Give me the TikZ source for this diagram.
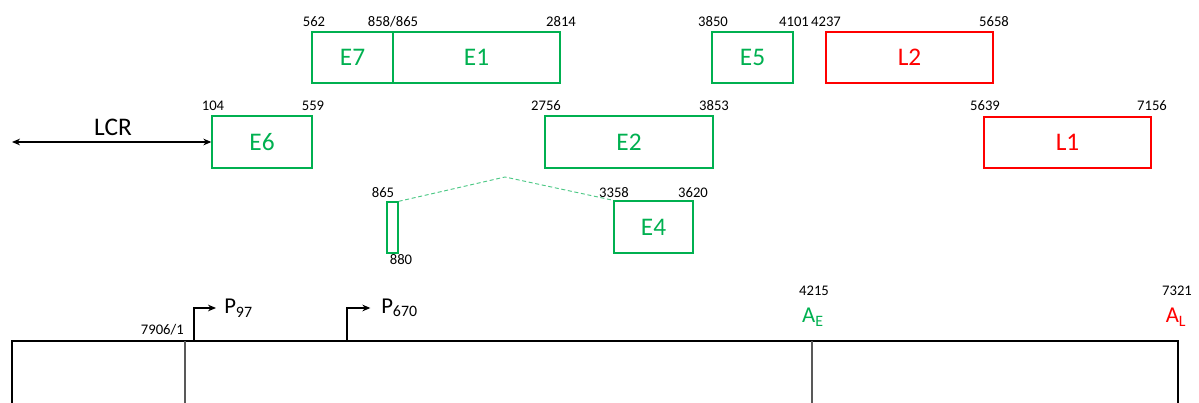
\documentclass[tikz,border=0pt]{standalone}
\usepackage{fontspec}
\setmainfont{Carlito}
\usetikzlibrary{fit,arrows.meta}
\definecolor{eg}{RGB}{0,176,80}
\definecolor{lr}{RGB}{255,0,0}
\begin{document}
\begin{tikzpicture}[x=0.75pt,y=-0.75pt,
  gbox/.style={draw=eg,line width=1pt,inner sep=0pt,rectangle},
  rbox/.style={draw=lr,line width=1pt,inner sep=0pt,rectangle},
  glab/.style={text=eg,font=\fontsize{19}{22}\selectfont},
  rlab/.style={text=lr,font=\fontsize{19}{22}\selectfont},
  num/.style={font=\fontsize{11}{13}\selectfont,inner sep=0pt,anchor=base},
  tip/.style={-{Stealth[length=6pt,width=5pt]}},
  prom/.style={font=\fontsize{17}{20}\selectfont,anchor=west,inner sep=0pt}]
\useasboundingbox (0,0) rectangle (1199,403);
\clip (0,0) rectangle (1199,403);
% exon boxes
\node[gbox,fit={(312,32)(393,83)}] (E7) {};
\node[gbox,fit={(393,32)(560,83)}] (E1) {};
\node[gbox,fit={(712,32)(793,83)}] (E5) {};
\node[rbox,fit={(826,32)(993,83)}] (L2) {};
\node[gbox,fit={(212,116)(312,168)}] (E6) {};
\node[gbox,fit={(545,116)(713,168)}] (E2) {};
\node[rbox,fit={(984,117)(1151,168)}] (L1) {};
\node[gbox,fit={(614,201)(693,253)}] (E4) {};
\node[gbox,fit={(387,202)(398,253)}] (E3) {};
% box labels
\node[glab] (tE7) at (E7.center) {E7};
\node[glab] (tE1) at (E1.center) {E1};
\node[glab] (tE5) at (E5.center) {E5};
\node[rlab] (tL2) at (L2.center) {L2};
\node[glab] (tE6) at (E6.center) {E6};
\node[glab] (tE2) at (E2.center) {E2};
\node[rlab] (tL1) at (L1.center) {L1};
\node[glab] (tE4) at (E4.center) {E4};
% numbers
\node[num] (n562) at (314,27) {562};
\node[num] (n858) at (393,27) {858/865};
\node[num] (n2814) at (561,27) {2814};
\node[num] (n3850) at (713,27) {3850};
\node[num] (n4101) at (794,27) {4101};
\node[num] (n4237) at (826,27) {4237};
\node[num] (n5658) at (994,27) {5658};
\node[num] (n104) at (213,110) {104};
\node[num] (n559) at (313,110) {559};
\node[num] (n2756) at (546,110) {2756};
\node[num] (n3853) at (714,110) {3853};
\node[num] (n5639) at (985,110) {5639};
\node[num] (n7156) at (1152,110) {7156};
\node[num] (n865) at (383,197) {865};
\node[num] (n880) at (401,264) {880};
\node[num] (n3358) at (614,197) {3358};
\node[num] (n3620) at (693,197) {3620};
\node[num,anchor=base east] (n7906) at (184,334) {7906/1};
\node[num] (n4215) at (814,295) {4215};
\node[num] (n7321) at (1177,295) {7321};
% splice dashed line
\coordinate (peak) at (505,177);
\draw[eg!70,dashed,line width=0.7pt,dash pattern=on 3pt off 2pt] (E3.north east) -- (peak) -- (E4.north west);
% LCR
\coordinate (lcrL) at (12,142);
\draw[{Stealth[length=6pt,width=5pt]}-{Stealth[length=6pt,width=5pt]},line width=0.8pt] (lcrL) -- (E6.west);
\node[font=\fontsize{19}{22}\selectfont] (LCR) at (113,127) {LCR};
% genome
\coordinate (gL) at (12,341);
\coordinate (gR) at (1178,341);
\coordinate (gLb) at (12,410);
\coordinate (gRb) at (1178,410);
\draw[line width=1pt] (gLb) -- (gL) -- (gR) -- (gRb);
\coordinate (v1t) at (185,341);
\coordinate (v1b) at (185,410);
\draw[gray!70!black,line width=0.8pt] (v1t) -- (v1b);
\coordinate (v2t) at (812,341);
\coordinate (v2b) at (812,410);
\draw[gray!70!black,line width=0.8pt] (v2t) -- (v2b);
% promoters
\node[prom] (P97) at (224,308) {P\textsubscript{97}};
\node[prom] (P670) at (381,308) {P\textsubscript{670}};
\coordinate (p1) at (194,341);
\coordinate (p2) at (347,341);
\draw[tip,line width=0.8pt,shorten >=6pt] (p1) |- (P97.west);
\draw[tip,line width=0.8pt,shorten >=8pt] (p2) |- (P670.west);
% polyA
\node[text=eg,font=\fontsize{17}{20}\selectfont,inner sep=0pt] (AE) at (813,317) {A\textsubscript{E}};
\node[text=lr,font=\fontsize{17}{20}\selectfont,inner sep=0pt] (AL) at (1176,317) {A\textsubscript{L}};
\end{tikzpicture}
\end{document}
